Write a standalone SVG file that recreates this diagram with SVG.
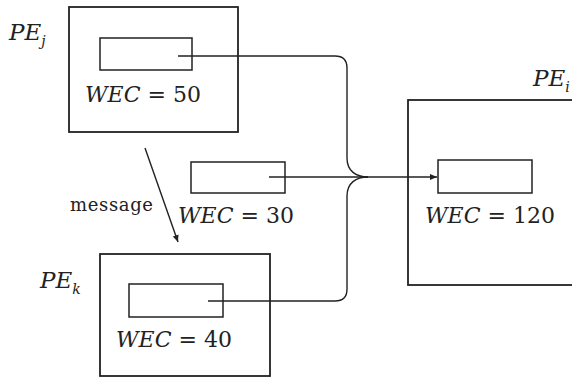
<svg xmlns="http://www.w3.org/2000/svg" width="572" height="378" viewBox="0 0 572 378">
<style>
.box{fill:none;stroke:#222;stroke-width:1.8}
.in{fill:none;stroke:#222;stroke-width:1.5}
.c{fill:none;stroke:#222;stroke-width:1.4}
text{font-family:'DejaVu Serif','Liberation Serif',serif;fill:#222}
.t{font-size:22px}
.p{font-size:23px;font-style:italic}
.i{font-style:italic}
.s{font-size:14px;font-style:italic}
.m{font-size:18px}
</style>
<defs>
<marker id="ah" markerWidth="8" markerHeight="8" refX="7" refY="4" orient="auto" markerUnits="userSpaceOnUse">
<path d="M0,1 L7,4 L0,7 Z" fill="#222"/>
</marker>
</defs>
<rect width="572" height="378" fill="#fff"/>
<g id="PEj">
<rect class="box" x="69" y="7" width="169" height="125"/>
<rect class="in" x="100" y="38" width="92" height="32"/>
<text class="t" x="85" y="102"><tspan class="i">WEC</tspan> = 50</text>
<text class="p" x="9" y="40">PE<tspan class="s" dy="6">j</tspan></text>
</g>
<g id="W30">
<rect class="in" x="191" y="162" width="94" height="31"/>
<text class="t" x="178" y="223"><tspan class="i">WEC</tspan> = 30</text>
</g>
<g id="PEi">
<rect class="box" x="408" y="100" width="180" height="185"/>
<rect class="in" x="438" y="160" width="94" height="33"/>
<text class="t" x="425" y="223"><tspan class="i">WEC</tspan> = 120</text>
<text class="p" x="533" y="86">PE<tspan class="s" dy="6">i</tspan></text>
</g>
<g id="PEk">
<rect class="box" x="100" y="254" width="170" height="122"/>
<rect class="in" x="129" y="284" width="94" height="33"/>
<text class="t" x="116" y="347"><tspan class="i">WEC</tspan> = 40</text>
<text class="p" x="40" y="288">PE<tspan class="s" dy="6">k</tspan></text>
</g>
<g id="connectors">
<path class="c" d="M178,56 H335 Q347,56 347,68 V158 C347,171 356,177 368,177"/>
<path class="c" d="M208,301 H335 Q347,301 347,289 V196 C347,183 356,177 368,177"/>
<path class="c" d="M269,177 H437" marker-end="url(#ah)"/>
<path class="c" d="M145,148 L178,242" marker-end="url(#ah)"/>
<text class="m" x="70" y="211" textLength="83">message</text>
</g>
</svg>
